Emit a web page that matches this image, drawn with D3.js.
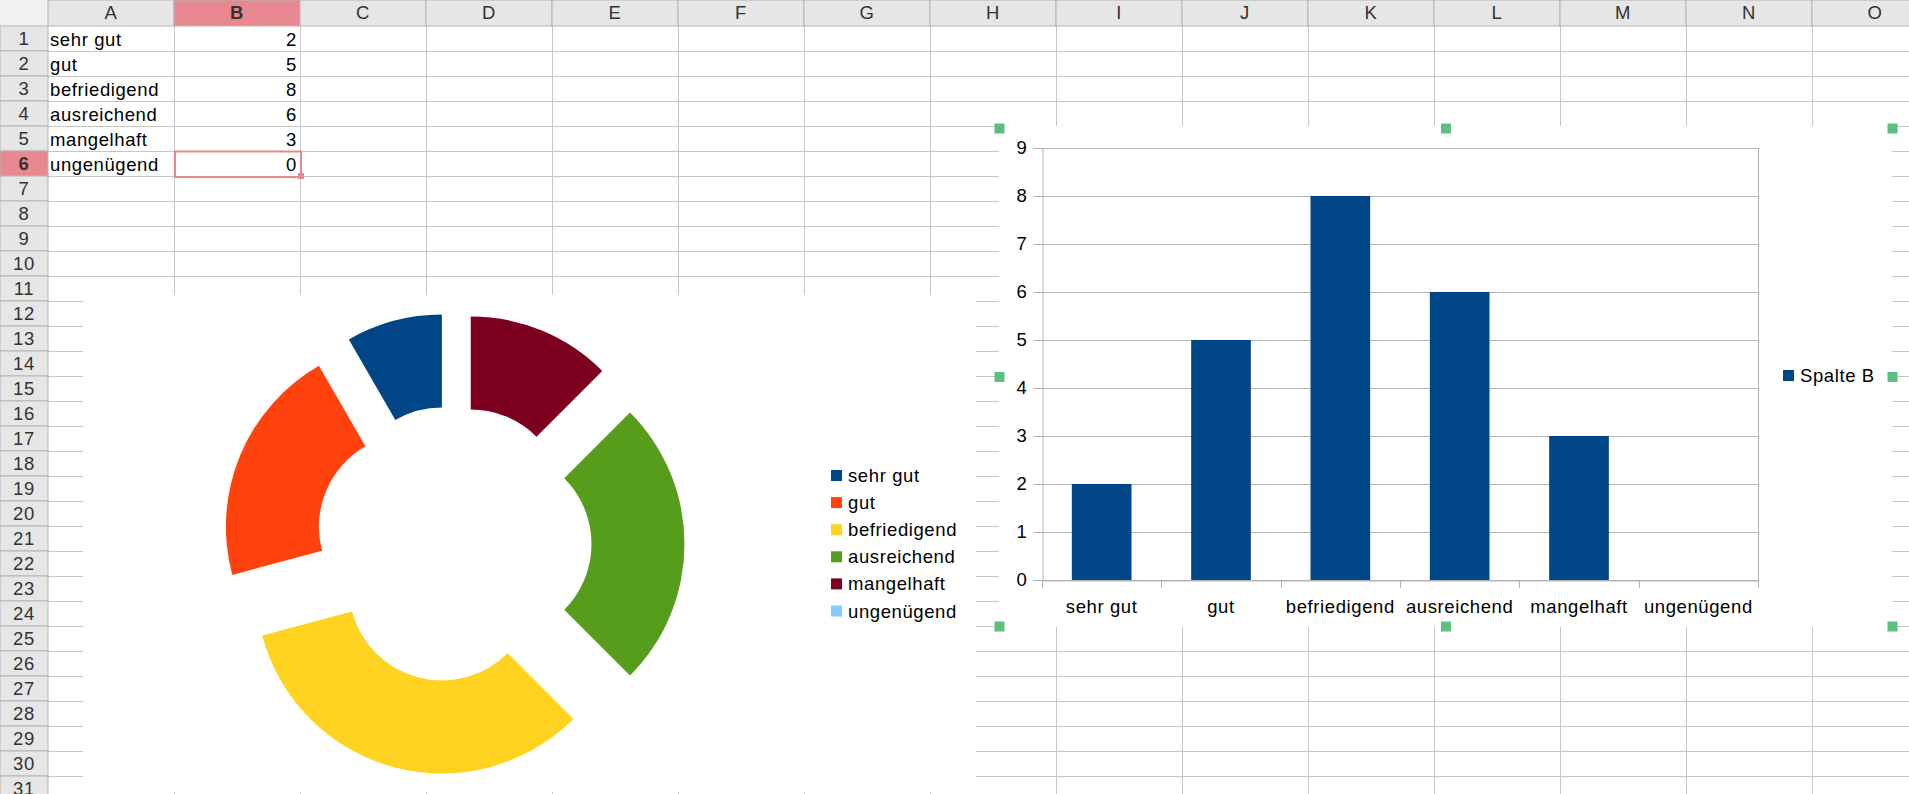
<!DOCTYPE html>
<html>
<head>
<meta charset="utf-8">
<script src="https://cdn.jsdelivr.net/npm/d3@7"></script>
<style>
  body { margin: 0; background: #fff; }
  text { font-family: "Liberation Sans", Arial, sans-serif; letter-spacing: 0.6px; }
</style>
</head>
<body>
<div id="chart-area"></div>
<script>
// sheet data
const categories = ["sehr gut", "gut", "befriedigend", "ausreichend", "mangelhaft", "ungenügend"];
const values = [2, 5, 8, 6, 3, 0];
const sliceColors = ["#004586", "#ff420e", "#ffd320", "#579d1c", "#7e0021", "#83caff"];
const columnLetters = ["A", "B", "C", "D", "E", "F", "G", "H", "I", "J", "K", "L", "M", "N", "O"];
const rowNumbers = d3.range(1, 32);
const yTicks = [0, 1, 2, 3, 4, 5, 6, 7, 8, 9];
const seriesName = "Spalte B";

const W = 1909, H = 794;
const headW = 48, headH = 26, colW = 126, rowH = 25;
const fontSize = 18.5;

const svg = d3.select("#chart-area").append("svg")
    .attr("width", W)
    .attr("height", H);

// ---- spreadsheet grid ----
const colX = i => headW + i * colW;
const rowY = i => headH + i * rowH;

const grid = svg.append("g").attr("stroke", "#c6c6c6").attr("stroke-width", 1);
columnLetters.forEach((c, i) => {
    grid.append("line")
        .attr("x1", colX(i + 1) + 0.5).attr("x2", colX(i + 1) + 0.5)
        .attr("y1", headH).attr("y2", H);
});
rowNumbers.forEach((r, i) => {
    grid.append("line")
        .attr("x1", headW).attr("x2", W)
        .attr("y1", rowY(i + 1) + 0.5).attr("y2", rowY(i + 1) + 0.5);
});

// headers
const head = svg.append("g");
head.append("rect").attr("x", 0).attr("y", 0).attr("width", W).attr("height", headH).attr("fill", "#e6e6e6");
head.append("rect").attr("x", 0).attr("y", 0).attr("width", headW).attr("height", H).attr("fill", "#e6e6e6");
head.append("rect").attr("x", 0).attr("y", 0).attr("width", headW).attr("height", headH).attr("fill", "#f2f2f2");

columnLetters.forEach((c, i) => {
    const sel = c === "B";
    head.append("rect")
        .attr("x", colX(i)).attr("y", 0)
        .attr("width", colW).attr("height", headH)
        .attr("fill", sel ? "#e8878f" : "#e6e6e6")
        .attr("stroke", "#b4b4b4");
    head.append("text")
        .attr("x", colX(i) + colW / 2).attr("y", 19)
        .attr("text-anchor", "middle")
        .attr("font-size", fontSize)
        .attr("font-weight", sel ? "bold" : "normal")
        .attr("fill", "#333")
        .text(c);
});
rowNumbers.forEach((r, i) => {
    const sel = r === 6;
    head.append("rect")
        .attr("x", 0).attr("y", rowY(i))
        .attr("width", headW).attr("height", rowH)
        .attr("fill", sel ? "#e8878f" : "#e6e6e6")
        .attr("stroke", "#b4b4b4");
    head.append("text")
        .attr("x", headW / 2).attr("y", rowY(i) + 19)
        .attr("text-anchor", "middle")
        .attr("font-size", fontSize)
        .attr("font-weight", sel ? "bold" : "normal")
        .attr("fill", "#333")
        .text(r);
});

// cell contents A1:B6
const cells = svg.append("g").attr("font-size", fontSize).attr("fill", "#000");
categories.forEach((c, i) => {
    cells.append("text")
        .attr("x", colX(0) + 2).attr("y", rowY(i) + 20)
        .text(c);
    cells.append("text")
        .attr("x", colX(2) - 3).attr("y", rowY(i) + 20)
        .attr("text-anchor", "end")
        .text(values[i]);
});

// cursor on B6
svg.append("rect")
    .attr("x", colX(1) + 1).attr("y", rowY(5) + 0.5)
    .attr("width", colW).attr("height", rowH + 0.5)
    .attr("fill", "none").attr("stroke", "#e8878f").attr("stroke-width", 2);
svg.append("rect")
    .attr("x", colX(2) - 2).attr("y", rowY(6) - 3)
    .attr("width", 6).attr("height", 6)
    .attr("fill", "#e8878f");

// ---- donut chart ----
const pieBox = { x: 83, y: 295, w: 893, h: 497 };
svg.append("rect")
    .attr("x", pieBox.x).attr("y", pieBox.y)
    .attr("width", pieBox.w).attr("height", pieBox.h)
    .attr("fill", "#fff");

const cx = 453.5, cy = 544, outerR = 186, innerR = 93, explode = 45;

const pie = d3.pie()
    .sort(null)
    .startAngle(0)
    .endAngle(-2 * Math.PI)
    .value(d => d.v);

const arc = d3.arc()
    .innerRadius(innerR)
    .outerRadius(outerR);

const pieData = pie(categories.map((c, i) => ({ c: c, v: values[i] })));

const donut = svg.append("g")
    .attr("transform", `translate(${cx}, ${cy})`);

donut.selectAll("path")
    .data(pieData)
    .enter()
    .append("path")
    .attr("d", arc)
    .attr("fill", (d, i) => sliceColors[i])
    .attr("transform", d => {
        const mid = (d.startAngle + d.endAngle) / 2;
        return `translate(${explode * Math.sin(mid)}, ${-explode * Math.cos(mid)})`;
    });

const pieLegend = svg.append("g")
    .attr("transform", "translate(831, 476)");
const pieLegendItems = pieLegend.selectAll("g")
    .data(categories)
    .enter()
    .append("g")
    .attr("transform", (d, i) => `translate(0, ${i * 27.1})`);
pieLegendItems.append("rect")
    .attr("x", 0).attr("y", -6)
    .attr("width", 11).attr("height", 11)
    .attr("fill", (d, i) => sliceColors[i]);
pieLegendItems.append("text")
    .attr("x", 17).attr("y", 6)
    .attr("font-size", fontSize)
    .text(d => d);

// ---- bar chart ----
const barBox = { x: 999, y: 126, w: 893, h: 501 };
svg.append("rect")
    .attr("x", barBox.x).attr("y", barBox.y)
    .attr("width", barBox.w).attr("height", barBox.h)
    .attr("fill", "#fff");

const plot = { left: 1042, right: 1758, top: 148, bottom: 580 };

const x = d3.scaleBand()
    .domain(categories)
    .range([plot.left, plot.right])
    .paddingInner(0.5)
    .paddingOuter(0.25);

const y = d3.scaleLinear()
    .domain([0, 9])
    .range([plot.bottom, plot.top]);

const g = svg.append("g");

// horizontal grid lines
g.append("g")
    .selectAll("line")
    .data(yTicks)
    .enter()
    .append("line")
    .attr("x1", plot.left).attr("x2", plot.right)
    .attr("y1", d => Math.round(y(d)) + 0.5).attr("y2", d => Math.round(y(d)) + 0.5)
    .attr("stroke", "#b3b3b3");

// right border
g.append("line")
    .attr("x1", plot.right + 0.5).attr("x2", plot.right + 0.5)
    .attr("y1", plot.top).attr("y2", plot.bottom)
    .attr("stroke", "#b3b3b3");

g.selectAll("rect.bar")
    .data(categories)
    .enter()
    .append("rect")
    .attr("class", "bar")
    .attr("x", d => x(d))
    .attr("y", (d, i) => y(values[i]))
    .attr("width", x.bandwidth())
    .attr("height", (d, i) => y(0) - y(values[i]))
    .attr("fill", "#004586");

const yAxisCall = d3.axisLeft(y)
    .tickValues(yTicks)
    .tickSize(9)
    .tickPadding(6)
    .tickFormat(d3.format("d"));
const yAxis = g.append("g")
    .attr("transform", `translate(${plot.left + 0.5}, 0)`)
    .call(yAxisCall);
yAxis.select(".domain").attr("stroke", "#b3b3b3");
yAxis.selectAll(".tick line").attr("stroke", "#b3b3b3");
yAxis.selectAll(".tick text")
    .attr("font-size", fontSize)
    .attr("font-family", "Liberation Sans, Arial, sans-serif")
    .attr("fill", "#000");

const xAxisCall = d3.axisBottom(x)
    .tickSize(0)
    .tickPadding(19);
const xAxis = g.append("g")
    .attr("transform", `translate(0, ${Math.round(plot.bottom) + 0.5})`)
    .call(xAxisCall);
xAxis.select(".domain").attr("stroke", "#b3b3b3");
xAxis.selectAll(".tick text")
    .attr("font-size", fontSize)
    .attr("font-family", "Liberation Sans, Arial, sans-serif")
    .attr("fill", "#000");

// category boundary ticks
g.append("g")
    .selectAll("line")
    .data(d3.range(categories.length + 1))
    .enter()
    .append("line")
    .attr("x1", i => Math.round(plot.left + i * x.step()) + 0.5)
    .attr("x2", i => Math.round(plot.left + i * x.step()) + 0.5)
    .attr("y1", plot.bottom).attr("y2", plot.bottom + 8)
    .attr("stroke", "#b3b3b3");

// legend
const legend = g.append("g").attr("transform", "translate(1783, 376)");
legend.append("rect")
    .attr("x", 0).attr("y", -6)
    .attr("width", 11).attr("height", 11)
    .attr("fill", "#004586");
legend.append("text")
    .attr("x", 17).attr("y", 6)
    .attr("font-size", fontSize)
    .text(seriesName);

// selection handles
const hx = [barBox.x, barBox.x + barBox.w / 2, barBox.x + barBox.w];
const hy = [barBox.y + 2, barBox.y + barBox.h / 2, barBox.y + barBox.h - 1];
const handles = [];
hx.forEach((hxv, i) => hy.forEach((hyv, j) => {
    if (!(i === 1 && j === 1)) handles.push([hxv, hyv]);
}));
svg.append("g")
    .selectAll("rect")
    .data(handles)
    .enter()
    .append("rect")
    .attr("x", d => d[0] - 4.5)
    .attr("y", d => d[1] - 4.5)
    .attr("width", 10).attr("height", 10)
    .attr("fill", "#5cbf7f");
</script>
</body>
</html>
